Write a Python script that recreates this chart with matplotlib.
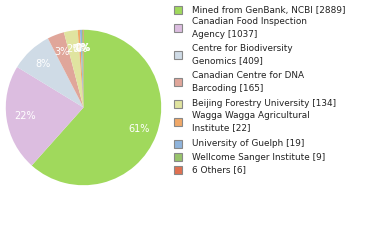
import numpy as np
import matplotlib.pyplot as plt
from matplotlib.patches import Rectangle

labels = ['Mined from GenBank, NCBI [2889]',
          'Canadian Food Inspection\nAgency [1037]',
          'Centre for Biodiversity\nGenomics [409]',
          'Canadian Centre for DNA\nBarcoding [165]',
          'Beijing Forestry University [134]',
          'Wagga Wagga Agricultural\nInstitute [22]',
          'University of Guelph [19]',
          'Wellcome Sanger Institute [9]',
          '6 Others [6]']
counts = [2889, 1037, 409, 165, 134, 22, 19, 9, 6]
colors = ['#a0d95c', '#dcbde0', '#cfdbe6', '#e0a69a', '#e0e4a0',
          '#f0a868', '#8fb4dc', '#98c46c', '#e07050']
legend_y = [10, 28, 55, 82, 104, 122, 144, 157, 170]

fig = plt.figure(figsize=(3.8, 2.4), dpi=100)
ax = fig.add_axes([5 / 380, 1 - 186 / 240, 157 / 380, 157 / 240])

total = sum(counts)
pcts = ['%d%%' % int(c * 100 / total) for c in counts]

wedges, _ = ax.pie(counts, colors=colors, startangle=90, counterclock=False,
                   wedgeprops=dict(linewidth=0))
for w, p in zip(wedges, pcts):
    ang = np.deg2rad((w.theta1 + w.theta2) / 2)
    ax.text(0.76 * np.cos(ang), 0.76 * np.sin(ang), p, color='white',
            fontsize=7, ha='center', va='center')
ax.set_xlim(-1.01, 1.01)
ax.set_ylim(-1.01, 1.01)
ax.set_aspect('equal')

for lab, col, y in zip(labels, colors, legend_y):
    yf = 1 - y / 240
    fig.patches.append(Rectangle((174 / 380, yf - 4 / 240), 8 / 380, 8 / 240,
                                 transform=fig.transFigure, facecolor=col,
                                 edgecolor='#888888', linewidth=0.8))
    fig.text(192 / 380, yf, lab, fontsize=6.4, color='#222222', va='center',
             ha='left', linespacing=1.45)

fig.savefig('out.png')
